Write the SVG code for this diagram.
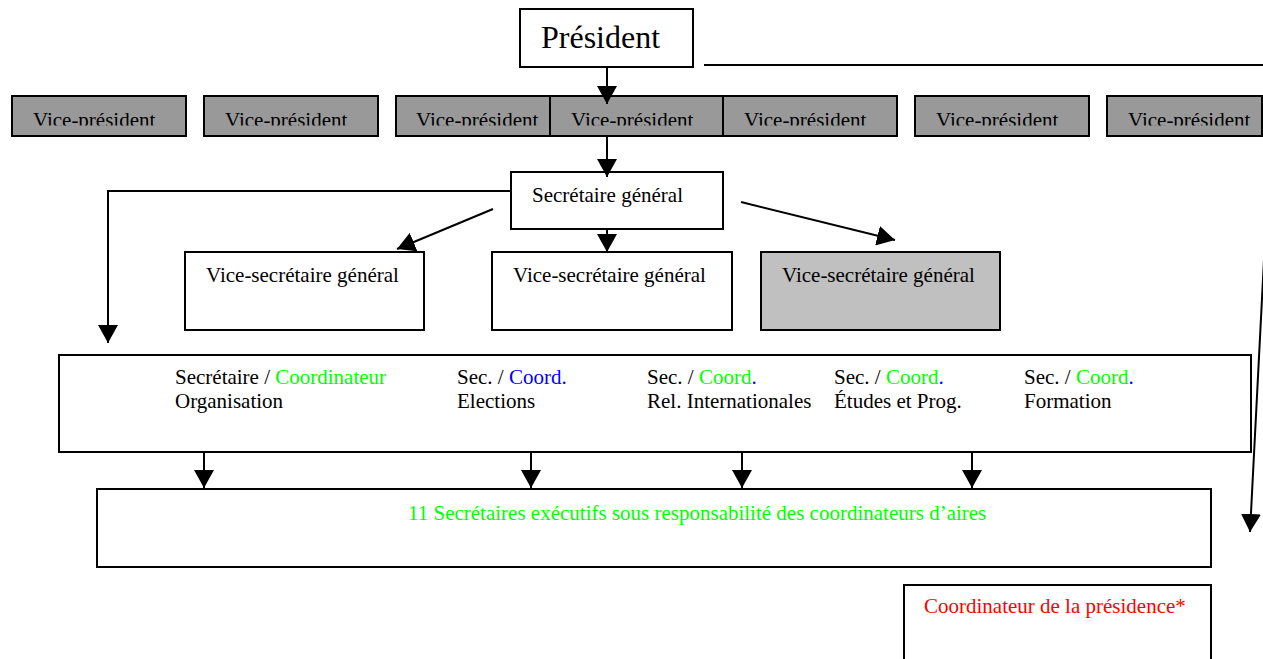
<svg xmlns="http://www.w3.org/2000/svg" width="1263" height="659" viewBox="0 0 1263 659">
<defs>
  <marker id="ah" markerUnits="userSpaceOnUse" markerWidth="19" markerHeight="20" refX="18" refY="10" orient="auto">
    <path d="M0,0 L18,10 L0,20 Z" fill="#000"/>
  </marker>
  <clipPath id="vpclip"><rect x="0" y="96" width="1263" height="29.5"/></clipPath>
  <style>
    text { font-family: "Liberation Serif", "Times New Roman", serif; font-size: 21px; fill: #000; }
    .box { fill: #fff; stroke: #000; stroke-width: 2; }
    .vp { fill: #999999; stroke: #000; stroke-width: 2; }
    .gray { fill: #c0c0c0; stroke: #000; stroke-width: 2; }
    .conn { fill: none; stroke: #000; stroke-width: 2; }
    .g { fill: #00ff00; }
    .b { fill: #0000ff; }
    .r { fill: #ff0000; }
  </style>
</defs>
<rect width="1263" height="659" fill="#fff"/>

<g id="president">
  <rect class="box" x="520" y="9" width="173" height="58"/>
  <text x="541" y="48" style="font-size:32px">Président</text>
</g>

<g id="vp1"><rect class="vp" x="12" y="96" width="174" height="40"/><text x="33" y="127" clip-path="url(#vpclip)">Vice-président</text></g>
<g id="vp2"><rect class="vp" x="204" y="96" width="174" height="40"/><text x="225" y="127" clip-path="url(#vpclip)">Vice-président</text></g>
<g id="vp3"><rect class="vp" x="396" y="96" width="174" height="40"/><text x="416" y="127" clip-path="url(#vpclip)">Vice-président</text></g>
<g id="vp4"><rect class="vp" x="550" y="96" width="174" height="40"/><text x="571" y="127" clip-path="url(#vpclip)">Vice-président</text></g>
<g id="vp5"><rect class="vp" x="723" y="96" width="174" height="40"/><text x="744" y="127" clip-path="url(#vpclip)">Vice-président</text></g>
<g id="vp6"><rect class="vp" x="915" y="96" width="174" height="40"/><text x="936" y="127" clip-path="url(#vpclip)">Vice-président</text></g>
<g id="vp7"><rect class="vp" x="1107" y="96" width="155" height="40"/><text x="1128" y="127" clip-path="url(#vpclip)">Vice-président</text></g>

<g id="secretaire-general">
  <rect class="box" x="511" y="172" width="212" height="57"/>
  <text x="532" y="202">Secrétaire général</text>
</g>

<g id="vsg1"><rect class="box" x="185" y="252" width="239" height="78"/><text x="206" y="282">Vice-secrétaire général</text></g>
<g id="vsg2"><rect class="box" x="492" y="252" width="240" height="78"/><text x="513" y="282">Vice-secrétaire général</text></g>
<g id="vsg3"><rect class="gray" x="761" y="252" width="239" height="78"/><text x="782" y="282">Vice-secrétaire général</text></g>

<g id="secretaires">
  <rect class="box" x="59" y="355" width="1192" height="97"/>
  <text x="175" y="384">Secrétaire / <tspan class="g">Coordinateur</tspan></text>
  <text x="175" y="408">Organisation</text>
  <text x="457" y="384">Sec. / <tspan class="b">Coord.</tspan></text>
  <text x="457" y="408">Elections</text>
  <text x="647" y="384">Sec. / <tspan class="g">Coord</tspan><tspan class="b">.</tspan></text>
  <text x="647" y="408">Rel. Internationales</text>
  <text x="834" y="384">Sec. / <tspan class="g">Coord</tspan><tspan class="b">.</tspan></text>
  <text x="834" y="408">Études et Prog.</text>
  <text x="1024" y="384">Sec. / <tspan class="g">Coord</tspan><tspan class="b">.</tspan></text>
  <text x="1024" y="408">Formation</text>
</g>

<g id="executifs">
  <rect class="box" x="97" y="489" width="1114" height="78"/>
  <text x="408" y="520" class="g">11 Secrétaires exécutifs sous responsabilité des coordinateurs d’aires</text>
</g>

<g id="coordinateur-presidence">
  <rect class="box" x="904" y="585" width="307" height="85"/>
  <text x="924" y="613" class="r">Coordinateur de la présidence*</text>
</g>

<g id="connectors">
  <line class="conn" x1="607" y1="67" x2="607" y2="104" marker-end="url(#ah)"/>
  <line class="conn" x1="607" y1="137" x2="607" y2="177" marker-end="url(#ah)"/>
  <line class="conn" x1="607" y1="229" x2="607" y2="252" marker-end="url(#ah)"/>
  <line class="conn" x1="493" y1="209" x2="397" y2="249" marker-end="url(#ah)"/>
  <line class="conn" x1="741" y1="202" x2="895" y2="240" marker-end="url(#ah)"/>
  <polyline class="conn" points="511,191 108,191 108,343" marker-end="url(#ah)"/>
  <line class="conn" x1="204" y1="452" x2="204" y2="488" marker-end="url(#ah)"/>
  <line class="conn" x1="531" y1="452" x2="531" y2="488" marker-end="url(#ah)"/>
  <line class="conn" x1="742" y1="452" x2="742" y2="488" marker-end="url(#ah)"/>
  <line class="conn" x1="972" y1="452" x2="972" y2="488" marker-end="url(#ah)"/>
  <polyline class="conn" points="704,65 1274,65 1250,532" marker-end="url(#ah)"/>
</g>
</svg>
